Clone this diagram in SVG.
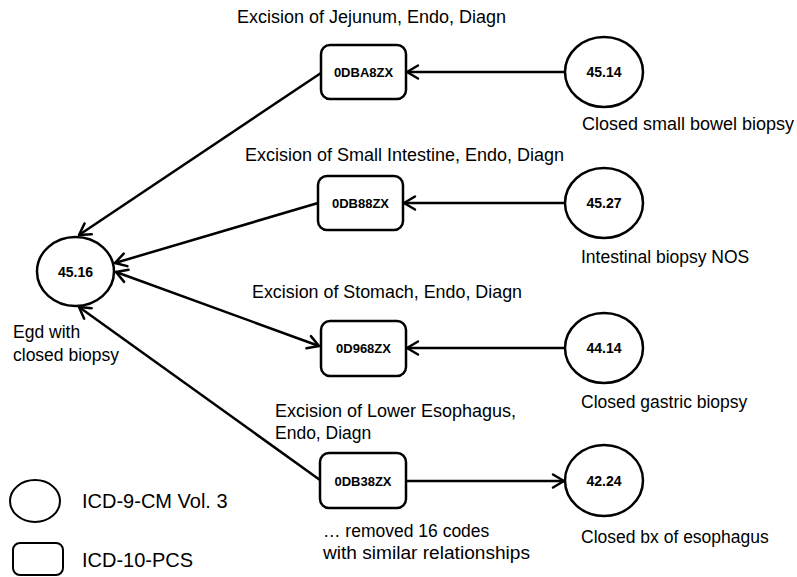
<svg xmlns="http://www.w3.org/2000/svg" width="797" height="577" viewBox="0 0 797 577">
<defs>
<marker id="arr" viewBox="-14 -9 17 18" refX="0" refY="0" markerWidth="17" markerHeight="18" markerUnits="userSpaceOnUse" orient="auto-start-reverse">
<path d="M-11,-6.5 L0,0 L-11,6.5" fill="none" stroke="#000" stroke-width="2.5" stroke-linejoin="round" stroke-linecap="round"/>
</marker>
<style>
.n{fill:#fff;stroke:#000;stroke-width:2.5}
.code{font-family:"Liberation Sans",Arial,sans-serif;font-weight:bold;font-size:13px;text-anchor:middle;fill:#000}
.num{font-family:"Liberation Sans",Arial,sans-serif;font-weight:bold;font-size:14px;text-anchor:middle;fill:#000}
.lbl{font-family:"Liberation Sans",Arial,sans-serif;font-size:17.5px;fill:#000}
.leg{font-family:"Liberation Sans",Arial,sans-serif;font-size:20px;fill:#000}
.e{fill:none;stroke:#000;stroke-width:2.5}
</style>
</defs>
<rect width="797" height="577" fill="#fff"/>

<g id="connectors">
<line class="e" x1="565" y1="72" x2="407" y2="72" marker-end="url(#arr)"/>
<line class="e" x1="321" y1="73" x2="79" y2="235" marker-end="url(#arr)"/>
<line class="e" x1="565" y1="203" x2="404" y2="203" marker-end="url(#arr)"/>
<line class="e" x1="318" y1="203" x2="115" y2="263" marker-end="url(#arr)"/>
<line class="e" x1="116" y1="272" x2="319" y2="346" marker-start="url(#arr)" marker-end="url(#arr)"/>
<line class="e" x1="565" y1="348" x2="407" y2="348" marker-end="url(#arr)"/>
<line class="e" x1="320" y1="480" x2="79" y2="307" marker-end="url(#arr)"/>
<line class="e" x1="406" y1="481" x2="564" y2="481" marker-end="url(#arr)"/>
</g>

<g id="n4516">
<ellipse class="n" cx="75.5" cy="271.5" rx="38.5" ry="34.5"/>
<text class="num" x="75.5" y="276.5">45.16</text>
<text class="lbl" x="13" y="338">Egd with</text>
<text class="lbl" x="13" y="361">closed biopsy</text>
</g>

<g id="n0DBA8ZX">
<rect class="n" x="321" y="45" width="85" height="54" rx="9"/>
<text class="code" x="363.5" y="76.5">0DBA8ZX</text>
<text class="lbl" x="237" y="23" textLength="269" lengthAdjust="spacingAndGlyphs">Excision of Jejunum, Endo, Diagn</text>
</g>

<g id="n4514">
<ellipse class="n" cx="604" cy="72" rx="39" ry="35"/>
<text class="num" x="604" y="77">45.14</text>
<text class="lbl" x="582" y="130" textLength="212" lengthAdjust="spacingAndGlyphs">Closed small bowel biopsy</text>
</g>

<g id="n0DB88ZX">
<rect class="n" x="318" y="176" width="85" height="54" rx="9"/>
<text class="code" x="360.5" y="207.5">0DB88ZX</text>
<text class="lbl" x="245" y="161" textLength="319" lengthAdjust="spacingAndGlyphs">Excision of Small Intestine, Endo, Diagn</text>
</g>

<g id="n4527">
<ellipse class="n" cx="604" cy="203" rx="39" ry="35"/>
<text class="num" x="604" y="208">45.27</text>
<text class="lbl" x="581" y="263">Intestinal biopsy NOS</text>
</g>

<g id="n0D968ZX">
<rect class="n" x="321" y="321" width="85" height="55" rx="9"/>
<text class="code" x="363.5" y="353">0D968ZX</text>
<text class="lbl" x="252" y="298" textLength="270" lengthAdjust="spacingAndGlyphs">Excision of Stomach, Endo, Diagn</text>
</g>

<g id="n4414">
<ellipse class="n" cx="604" cy="348" rx="39" ry="35"/>
<text class="num" x="604" y="353">44.14</text>
<text class="lbl" x="581" y="408">Closed gastric biopsy</text>
</g>

<g id="n0DB38ZX">
<rect class="n" x="320" y="453" width="86" height="55" rx="9"/>
<text class="code" x="363" y="485.5">0DB38ZX</text>
<text class="lbl" x="275" y="417" textLength="241" lengthAdjust="spacingAndGlyphs">Excision of Lower Esophagus,</text>
<text class="lbl" x="275" y="439">Endo, Diagn</text>
<text class="lbl" x="323" y="537">… removed 16 codes</text>
<text class="lbl" x="323" y="559" textLength="207" lengthAdjust="spacingAndGlyphs">with similar relationships</text>
</g>

<g id="n4224">
<ellipse class="n" cx="604" cy="480.5" rx="39" ry="35.5"/>
<text class="num" x="604" y="485.5">42.24</text>
<text class="lbl" x="581" y="543">Closed bx of esophagus</text>
</g>

<g id="legend">
<ellipse fill="#fff" stroke="#000" stroke-width="2" cx="35" cy="501" rx="25" ry="21"/>
<text class="leg" x="82" y="508">ICD-9-CM Vol. 3</text>
<rect fill="#fff" stroke="#000" stroke-width="2" x="13" y="543" width="50" height="32" rx="7"/>
<text class="leg" x="82" y="567">ICD-10-PCS</text>
</g>
</svg>
